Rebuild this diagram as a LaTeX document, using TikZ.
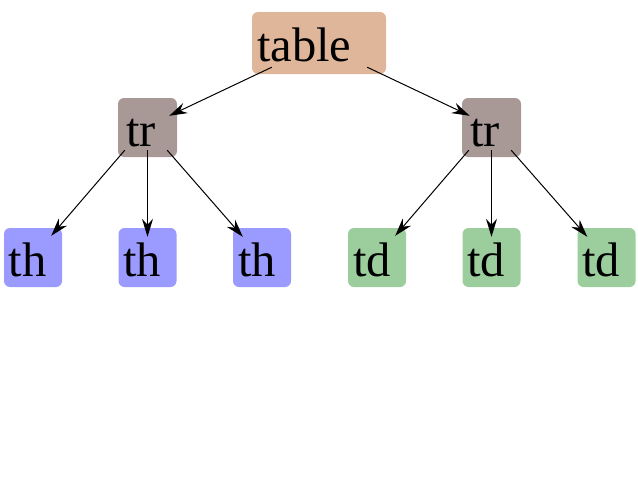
\documentclass[tikz,border=0pt]{standalone}
\usepackage{fontspec}
\setmainfont{Liberation Serif}
\usepackage{xcolor}
\usepackage{tikz}
\usetikzlibrary{arrows.meta}
\definecolor{tablecol}{RGB}{224,182,154}
\definecolor{trcol}{RGB}{168,152,150}
\definecolor{thcol}{RGB}{155,155,255}
\definecolor{tdcol}{RGB}{156,205,156}

\begin{document}
\begin{tikzpicture}[x=1pt,y=-1pt,
  tag/.style={rounded corners=6pt,inner xsep=5pt,inner ysep=0pt,align=left,
    font=\fontsize{48.5}{52}\selectfont,text height=37pt,text depth=0pt,minimum height=59pt},
  leaf/.style={tag,minimum width=58pt,text width=48pt},
  link/.style={-{Stealth[length=18pt,width=11pt,inset=6pt]},line width=1pt}]
\useasboundingbox (0,0) rectangle (638,477);
% root and rows
\node[tag,fill=tablecol,text width=124pt,minimum height=62pt] (table) at (319,43) {table};
\node[tag,fill=trcol,inner xsep=8pt,text width=43pt] (tr1) at (147.5,127.5) {tr};
\node[tag,fill=trcol,inner xsep=8pt,text width=43pt] (tr2) at (491.5,127.5) {tr};
% cells
\foreach \x [count=\i] in {33,147.5,262}
  \node[leaf,fill=thcol] (th\i) at (\x,257.5) {th};
\foreach \x [count=\i] in {377,491.5,606.5}
  \node[leaf,fill=tdcol] (td\i) at (\x,257.5) {td};
% edges
\draw[link] ([shift={(20,-7)}]table.south west) -- ([shift={(-8,18)}]tr1.north east);
\draw[link] ([shift={(-19,-7)}]table.south east) -- ([shift={(8,18)}]tr2.north west);
\foreach \r/\c in {tr1/th,tr2/td} {
  \draw[link] ([shift={(7,-7)}]\r.south west) -- ([shift={(-11,8)}]\c1.north east);
  \draw[link] ([shift={(0,-7)}]\r.south) -- ([shift={(0,9)}]\c2.north);
  \draw[link] ([shift={(-10,-7)}]\r.south east) -- ([shift={(10,9)}]\c3.north west);
}
\end{tikzpicture}
\end{document}
